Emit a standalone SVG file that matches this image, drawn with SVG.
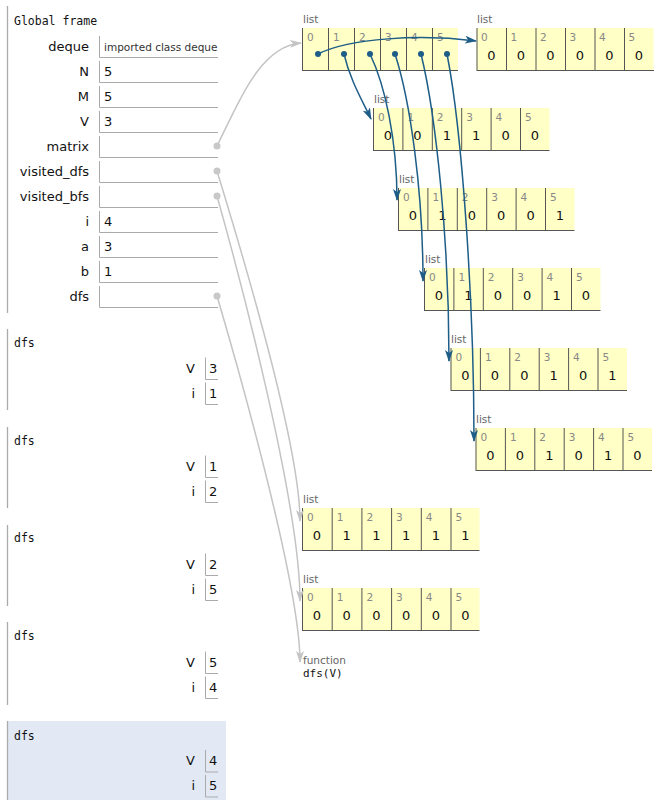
<svg xmlns="http://www.w3.org/2000/svg" width="670" height="800" viewBox="0 0 670 800">
<style>
.fname{font-family:"DejaVu Sans Mono","Liberation Mono",monospace;font-size:11.5px;fill:#111}
.vl{font-family:"DejaVu Sans","Noto Sans",sans-serif;font-size:13px;fill:#111;text-anchor:end}
.vv{font-family:"DejaVu Sans","Noto Sans",sans-serif;font-size:13px;fill:#111}
.small{font-family:"DejaVu Sans","Noto Sans",sans-serif;font-size:10.5px;fill:#333}
.box{fill:none;stroke:#aaa;stroke-width:1}
.fb{stroke:#aaa;stroke-width:1.3}
.cell{fill:#ffffc6;stroke:none}
.cb{fill:none;stroke:#555;stroke-width:1}
.idx{font-family:"DejaVu Sans","Noto Sans",sans-serif;font-size:10.5px;fill:#888}
.val{font-family:"DejaVu Sans","Noto Sans",sans-serif;font-size:13px;fill:#111;text-anchor:middle}
.tl{font-family:"DejaVu Sans","Noto Sans",sans-serif;font-size:10.5px;fill:#666}
.code{font-family:"DejaVu Sans Mono","Liberation Mono",monospace;font-size:11px;fill:#111}
.blue{fill:none;stroke:#1d5d88;stroke-width:1.5;marker-end:url(#ab)}
.gray{fill:none;stroke:#c4c4c4;stroke-width:1.5;marker-end:url(#ag)}
.bd{fill:#1d5d88}
.gd{fill:#c8c8c8}
</style>
<defs>
<marker id="ab" viewBox="0 0 12 8" refX="11" refY="4" markerWidth="12" markerHeight="8" orient="auto" markerUnits="userSpaceOnUse"><path d="M0,0 L12,4 L0,8 L3,4 z" fill="#1d5d88"/></marker>
<marker id="ag" viewBox="0 0 12 8" refX="11" refY="4" markerWidth="12" markerHeight="8" orient="auto" markerUnits="userSpaceOnUse"><path d="M0,0 L12,4 L0,8 L3,4 z" fill="#c4c4c4"/></marker>
</defs>
<rect width="670" height="800" fill="#fff"/>

<g id="global-frame">
<line class="fb" x1="7.5" y1="6" x2="7.5" y2="313"/>
<text class="fname" x="14" y="25">Global frame</text>
<text class="vl" x="89" y="51">deque</text><path class="box" d="M99.5,36 V57.5 H218"/><text class="small" x="104" y="51">imported class deque</text>
<text class="vl" x="89" y="76">N</text><path class="box" d="M99.5,61 V82.5 H218"/><text class="vv" x="104" y="76">5</text>
<text class="vl" x="89" y="101">M</text><path class="box" d="M99.5,86 V107.5 H218"/><text class="vv" x="104" y="101">5</text>
<text class="vl" x="89" y="126">V</text><path class="box" d="M99.5,111 V132.5 H218"/><text class="vv" x="104" y="126">3</text>
<text class="vl" x="89" y="151">matrix</text><path class="box" d="M99.5,136 V157.5 H218"/>
<text class="vl" x="89" y="176">visited_dfs</text><path class="box" d="M99.5,161 V182.5 H218"/>
<text class="vl" x="89" y="201">visited_bfs</text><path class="box" d="M99.5,186 V207.5 H218"/>
<text class="vl" x="89" y="226">i</text><path class="box" d="M99.5,211 V232.5 H218"/><text class="vv" x="104" y="226">4</text>
<text class="vl" x="89" y="251">a</text><path class="box" d="M99.5,236 V257.5 H218"/><text class="vv" x="104" y="251">3</text>
<text class="vl" x="89" y="276">b</text><path class="box" d="M99.5,261 V282.5 H218"/><text class="vv" x="104" y="276">1</text>
<text class="vl" x="89" y="301">dfs</text><path class="box" d="M99.5,286 V307.5 H218"/>
</g>

<g id="frame-dfs-1">
<line class="fb" x1="7.5" y1="329" x2="7.5" y2="410"/>
<text class="fname" x="14" y="347">dfs</text>
<text class="vl" x="195" y="373">V</text><path class="box" d="M205.5,357.5 V379.5 H218"/><text class="vv" x="209" y="373">3</text>
<text class="vl" x="195" y="398">i</text><path class="box" d="M205.5,382.5 V404.5 H218"/><text class="vv" x="209" y="398">1</text>
</g>
<g id="frame-dfs-2">
<line class="fb" x1="7.5" y1="427" x2="7.5" y2="508"/>
<text class="fname" x="14" y="445">dfs</text>
<text class="vl" x="195" y="471">V</text><path class="box" d="M205.5,455.5 V477.5 H218"/><text class="vv" x="209" y="471">1</text>
<text class="vl" x="195" y="496">i</text><path class="box" d="M205.5,480.5 V502.5 H218"/><text class="vv" x="209" y="496">2</text>
</g>
<g id="frame-dfs-3">
<line class="fb" x1="7.5" y1="525" x2="7.5" y2="606"/>
<text class="fname" x="14" y="542">dfs</text>
<text class="vl" x="195" y="569">V</text><path class="box" d="M205.5,553.5 V575.5 H218"/><text class="vv" x="209" y="569">2</text>
<text class="vl" x="195" y="594">i</text><path class="box" d="M205.5,578.5 V600.5 H218"/><text class="vv" x="209" y="594">5</text>
</g>
<g id="frame-dfs-4">
<line class="fb" x1="7.5" y1="622" x2="7.5" y2="705"/>
<text class="fname" x="14" y="640">dfs</text>
<text class="vl" x="195" y="667">V</text><path class="box" d="M205.5,651.5 V673.5 H218"/><text class="vv" x="209" y="667">5</text>
<text class="vl" x="195" y="692">i</text><path class="box" d="M205.5,676.5 V698.5 H218"/><text class="vv" x="209" y="692">4</text>
</g>
<g id="frame-dfs-5">
<rect x="7" y="721" width="219" height="79" fill="#e2e9f4"/>
<line class="fb" x1="7.5" y1="721" x2="7.5" y2="800"/>
<text class="fname" x="14" y="739.5">dfs</text>
<text class="vl" x="195" y="765">V</text><path class="box" d="M205.5,750 V772 H218"/><text class="vv" x="209" y="765">4</text>
<text class="vl" x="195" y="790">i</text><path class="box" d="M205.5,775 V797 H218"/><text class="vv" x="209" y="790">5</text>
</g>

<g id="matrix-list">
<text class="tl" x="303" y="23">list</text>
<rect class="cell" x="302" y="28" width="156" height="42"/>
<path class="cb" d="M302.5,28 V70 M328.5,28 V70 M354.5,28 V70 M380.5,28 V70 M406.5,28 V70 M432.5,28 V70 M302,70.5 H458"/>
<text class="idx" x="307" y="41">0</text><text class="idx" x="333" y="41">1</text><text class="idx" x="359" y="41">2</text><text class="idx" x="385" y="41">3</text><text class="idx" x="411" y="41">4</text><text class="idx" x="437" y="41">5</text>
<circle class="bd" cx="318" cy="54" r="3"/><circle class="bd" cx="344" cy="54" r="3"/><circle class="bd" cx="370" cy="54" r="3"/><circle class="bd" cx="395" cy="54" r="3"/><circle class="bd" cx="421" cy="54" r="3"/><circle class="bd" cx="447" cy="54" r="3"/>
</g>

<g id="row-0">
<text class="tl" x="477" y="23">list</text>
<rect class="cell" x="476.5" y="28" width="177" height="42"/>
<path class="cb" d="M477,28 V70 M506.5,28 V70 M536,28 V70 M565.5,28 V70 M595,28 V70 M624.5,28 V70 M476.5,70.5 H654"/>
<g class="idx"><text x="481" y="41">0</text><text x="510.5" y="41">1</text><text x="540" y="41">2</text><text x="569.5" y="41">3</text><text x="599" y="41">4</text><text x="628.5" y="41">5</text></g>
<g class="val"><text x="491.5" y="60">0</text><text x="521" y="60">0</text><text x="550.5" y="60">0</text><text x="580" y="60">0</text><text x="609.5" y="60">0</text><text x="639" y="60">0</text></g>
</g>

<g id="row-1">
<text class="tl" x="374" y="103">list</text>
<rect class="cell" x="373" y="108" width="176.5" height="42"/>
<path class="cb" d="M373.5,108 V150 M402.9,108 V150 M432.3,108 V150 M461.7,108 V150 M491.1,108 V150 M520.5,108 V150 M373,150.5 H549.5"/>
<g class="idx"><text x="378" y="121">0</text><text x="407.4" y="121">1</text><text x="436.8" y="121">2</text><text x="466.2" y="121">3</text><text x="495.6" y="121">4</text><text x="525" y="121">5</text></g>
<g class="val"><text x="388" y="140">0</text><text x="417.4" y="140">0</text><text x="446.8" y="140">1</text><text x="476.2" y="140">1</text><text x="505.6" y="140">0</text><text x="535" y="140">0</text></g>
</g>

<g id="row-2">
<text class="tl" x="399" y="183">list</text>
<rect class="cell" x="398" y="188" width="176.5" height="42"/>
<path class="cb" d="M398.5,188 V230 M427.9,188 V230 M457.3,188 V230 M486.7,188 V230 M516.1,188 V230 M545.5,188 V230 M398,230.5 H574.5"/>
<g class="idx"><text x="403" y="201">0</text><text x="432.4" y="201">1</text><text x="461.8" y="201">2</text><text x="491.2" y="201">3</text><text x="520.6" y="201">4</text><text x="550" y="201">5</text></g>
<g class="val"><text x="413" y="220">0</text><text x="442.4" y="220">1</text><text x="471.8" y="220">0</text><text x="501.2" y="220">0</text><text x="530.6" y="220">0</text><text x="560" y="220">1</text></g>
</g>

<g id="row-3">
<text class="tl" x="425" y="263">list</text>
<rect class="cell" x="424" y="268" width="176.5" height="42"/>
<path class="cb" d="M424.5,268 V310 M453.9,268 V310 M483.3,268 V310 M512.7,268 V310 M542.1,268 V310 M571.5,268 V310 M424,310.5 H600.5"/>
<g class="idx"><text x="429" y="281">0</text><text x="458.4" y="281">1</text><text x="487.8" y="281">2</text><text x="517.2" y="281">3</text><text x="546.6" y="281">4</text><text x="576" y="281">5</text></g>
<g class="val"><text x="439" y="300">0</text><text x="468.4" y="300">1</text><text x="497.8" y="300">0</text><text x="527.2" y="300">0</text><text x="556.6" y="300">1</text><text x="586" y="300">0</text></g>
</g>

<g id="row-4">
<text class="tl" x="451" y="343">list</text>
<rect class="cell" x="450.5" y="348" width="176.5" height="42"/>
<path class="cb" d="M451,348 V390 M480.4,348 V390 M509.8,348 V390 M539.2,348 V390 M568.6,348 V390 M598,348 V390 M450.5,390.5 H627"/>
<g class="idx"><text x="455.5" y="361">0</text><text x="484.9" y="361">1</text><text x="514.3" y="361">2</text><text x="543.7" y="361">3</text><text x="573.1" y="361">4</text><text x="602.5" y="361">5</text></g>
<g class="val"><text x="465.5" y="380">0</text><text x="494.9" y="380">0</text><text x="524.3" y="380">0</text><text x="553.7" y="380">1</text><text x="583.1" y="380">0</text><text x="612.5" y="380">1</text></g>
</g>

<g id="row-5">
<text class="tl" x="476" y="423">list</text>
<rect class="cell" x="475.5" y="428" width="176.5" height="42"/>
<path class="cb" d="M476,428 V470 M505.4,428 V470 M534.8,428 V470 M564.2,428 V470 M593.6,428 V470 M623,428 V470 M475.5,470.5 H652"/>
<g class="idx"><text x="480.5" y="441">0</text><text x="509.9" y="441">1</text><text x="539.3" y="441">2</text><text x="568.7" y="441">3</text><text x="598.1" y="441">4</text><text x="627.5" y="441">5</text></g>
<g class="val"><text x="490.5" y="460">0</text><text x="519.9" y="460">0</text><text x="549.3" y="460">1</text><text x="578.7" y="460">0</text><text x="608.1" y="460">1</text><text x="637.5" y="460">0</text></g>
</g>

<g id="visited-dfs-list">
<text class="tl" x="303" y="503">list</text>
<rect class="cell" x="302" y="508" width="177.5" height="42"/>
<path class="cb" d="M302.5,508 V550 M332.2,508 V550 M361.9,508 V550 M391.6,508 V550 M421.3,508 V550 M451,508 V550 M302,550.5 H479.5"/>
<g class="idx"><text x="307" y="521">0</text><text x="336.7" y="521">1</text><text x="366.4" y="521">2</text><text x="396.1" y="521">3</text><text x="425.8" y="521">4</text><text x="455.5" y="521">5</text></g>
<g class="val"><text x="317" y="540">0</text><text x="346.7" y="540">1</text><text x="376.4" y="540">1</text><text x="406.1" y="540">1</text><text x="435.8" y="540">1</text><text x="465.5" y="540">1</text></g>
</g>

<g id="visited-bfs-list">
<text class="tl" x="303" y="583">list</text>
<rect class="cell" x="302" y="588" width="177.5" height="42"/>
<path class="cb" d="M302.5,588 V630 M332.2,588 V630 M361.9,588 V630 M391.6,588 V630 M421.3,588 V630 M451,588 V630 M302,630.5 H479.5"/>
<g class="idx"><text x="307" y="601">0</text><text x="336.7" y="601">1</text><text x="366.4" y="601">2</text><text x="396.1" y="601">3</text><text x="425.8" y="601">4</text><text x="455.5" y="601">5</text></g>
<g class="val"><text x="317" y="620">0</text><text x="346.7" y="620">0</text><text x="376.4" y="620">0</text><text x="406.1" y="620">0</text><text x="435.8" y="620">0</text><text x="465.5" y="620">0</text></g>
</g>

<g id="function-dfs">
<text class="tl" x="303" y="663.5">function</text>
<text class="code" x="303" y="677">dfs(V)</text>
</g>

<g id="connectors">
<path class="gray" d="M217,146 C242,95 262,46 301,43"/>
<path class="gray" d="M217,171 C235,230 300,440 300,521"/>
<path class="gray" d="M217,196 C235,260 300,500 300,601"/>
<path class="gray" d="M217,296 C230,340 300,580 300,662"/>
<circle class="gd" cx="217" cy="146" r="3.5"/>
<circle class="gd" cx="217" cy="171" r="3.5"/>
<circle class="gd" cx="217" cy="196" r="3.5"/>
<circle class="gd" cx="217" cy="296" r="3.5"/>
<path class="blue" d="M318,54 C350,38 420,34 476,41"/>
<path class="blue" d="M344,54 C350,80 362,100 371,119"/>
<path class="blue" d="M370,54 C385,85 397,140 397,200"/>
<path class="blue" d="M395,54 C410,100 423,190 423,281"/>
<path class="blue" d="M421,54 C436,115 449,240 449,361"/>
<path class="blue" d="M447,54 C462,130 474,300 474,441"/>
</g>
</svg>
